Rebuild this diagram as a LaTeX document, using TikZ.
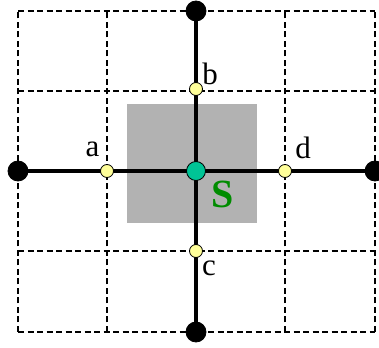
\documentclass[tikz,border=0pt]{standalone}
\usepackage{fontspec}
\setmainfont{Liberation Serif}
\usepackage{xcolor}
\usetikzlibrary{positioning}
\definecolor{stencil}{RGB}{0,196,150}
\definecolor{facecol}{RGB}{255,255,153}
\definecolor{shadecol}{RGB}{178,178,178}
\definecolor{labgreen}{RGB}{0,140,0}

\begin{document}
\begin{tikzpicture}[
  x=1pt, y=1pt,
  gridline/.style={draw, dash pattern=on 6pt off 3.5pt, line width=1.5pt},
  axis/.style={draw, line width=4pt},
  node dot/.style={circle, draw, fill=black, line width=0.8pt, minimum size=20pt, inner sep=0pt},
  face dot/.style={circle, draw, fill=facecol, line width=0.8pt, minimum size=13pt, inner sep=0pt},
  cell dot/.style={circle, draw, fill=stencil, line width=0.8pt, minimum size=19pt, inner sep=0pt},
  lab/.style={font=\fontsize{31}{31}\selectfont, inner sep=0pt}
]
\useasboundingbox (0,0) rectangle (379,347);
% control volume around S
\fill[shadecol] (127,124) rectangle (257,243);
% dashed mesh
\foreach \gx in {18,107,285,375} \draw[gridline] (\gx,15) -- (\gx,336);
\foreach \gy in {15,96,256,336} \draw[gridline] (18,\gy) -- (375,\gy);

\coordinate (west) at (18,176);
\coordinate (east) at (375,176);
\coordinate (north) at (196,336);
\coordinate (south) at (196,15);
\draw[axis] (west) -- (east);
\draw[axis] (north) -- (south);

\node[node dot] (W) at (west) {};
\node[node dot] (E) at (east) {};
\node[node dot] (N) at (north) {};
\node[node dot] (Sd) at (south) {};

\node[cell dot] (S) at (196,176) {};
\node[face dot] (fa) at (107,176) {};
\node[face dot] (fd) at (285,176) {};
\node[face dot] (fb) at (196,258) {};
\node[face dot] (fc) at (196,96) {};

\node[lab] (la) at (92.5,198) {a};
\node[lab] (lb) at (210,273) {b};
\node[lab] (ld) at (303,199) {d};
\node[lab] (lc) at (209,79) {c};
\node[font=\fontsize{40}{40}\selectfont\bfseries, text=labgreen, inner sep=0pt] (lS) at (223,153) {S};
\end{tikzpicture}
\end{document}
